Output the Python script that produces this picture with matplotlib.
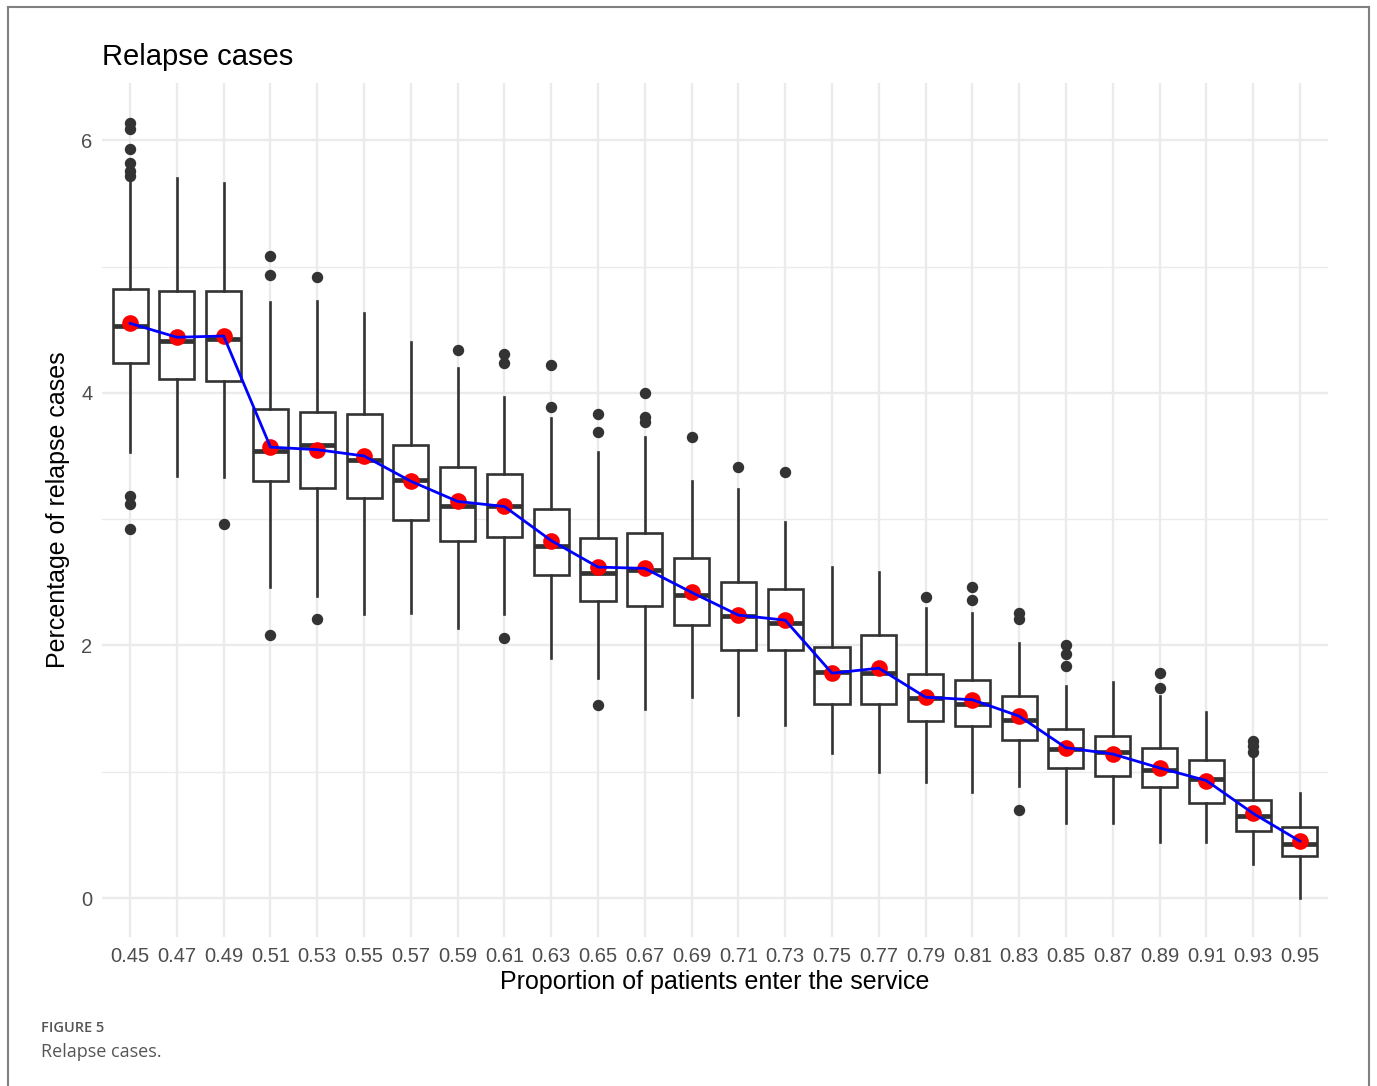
"""
Relapse cases boxplot (ggplot-like theme_minimal look) with mean markers.
"""
import matplotlib
matplotlib.use("Agg")
import matplotlib.pyplot as plt
from matplotlib.lines import Line2D

proportions = ["0.45", "0.47", "0.49", "0.51", "0.53", "0.55", "0.57", "0.59", "0.61",
               "0.63", "0.65", "0.67", "0.69", "0.71", "0.73", "0.75", "0.77", "0.79",
               "0.81", "0.83", "0.85", "0.87", "0.89", "0.91", "0.93", "0.95"]
whisker_low = [3.53, 3.34, 3.33, 2.46, 2.39, 2.25, 2.26, 2.14, 2.25, 1.90, 1.74, 1.50, 1.59,
               1.45, 1.37, 1.15, 1.00, 0.92, 0.84, 0.89, 0.59, 0.59, 0.44, 0.44, 0.27, 0.00]
q1 = [4.24, 4.11, 4.09, 3.30, 3.25, 3.17, 2.99, 2.83, 2.86, 2.56, 2.35, 2.31, 2.16,
      1.96, 1.96, 1.54, 1.54, 1.40, 1.36, 1.25, 1.03, 0.97, 0.88, 0.75, 0.53, 0.33]
median = [4.53, 4.41, 4.43, 3.54, 3.59, 3.47, 3.31, 3.10, 3.10, 2.79, 2.57, 2.60, 2.40,
          2.23, 2.18, 1.79, 1.78, 1.58, 1.54, 1.41, 1.18, 1.16, 1.01, 0.94, 0.65, 0.43]
q3 = [4.82, 4.81, 4.81, 3.87, 3.85, 3.83, 3.59, 3.41, 3.36, 3.08, 2.85, 2.89, 2.69,
      2.50, 2.45, 1.99, 2.08, 1.77, 1.73, 1.60, 1.34, 1.28, 1.19, 1.09, 0.78, 0.56]
whisker_high = [5.68, 5.70, 5.66, 4.72, 4.73, 4.63, 4.40, 4.20, 3.97, 3.80, 3.53, 3.65, 3.30,
                3.24, 2.98, 2.62, 2.58, 2.30, 2.26, 2.02, 1.68, 1.71, 1.60, 1.47, 1.12, 0.83]
means = [4.55, 4.44, 4.45, 3.57, 3.55, 3.50, 3.30, 3.14, 3.10, 2.83, 2.62, 2.61, 2.42,
         2.24, 2.20, 1.78, 1.82, 1.59, 1.57, 1.44, 1.19, 1.14, 1.03, 0.93, 0.67, 0.45]
outliers = [
    [6.14, 6.09, 5.93, 5.82, 5.76, 5.72, 3.18, 3.12, 2.92],
    [],
    [2.96],
    [5.08, 4.93, 2.08],
    [4.92, 2.21],
    [],
    [],
    [4.34],
    [4.31, 4.24, 2.06],
    [4.22, 3.89],
    [3.83, 3.69, 1.53],
    [4.00, 3.81, 3.77],
    [3.65],
    [3.41],
    [3.37],
    [],
    [],
    [2.38],
    [2.46, 2.36],
    [2.26, 2.21, 0.70],
    [2.00, 1.93, 1.84],
    [],
    [1.78, 1.66],
    [],
    [1.24, 1.20, 1.16],
    [],
]

_DARK = "#333333"
_GRID = "#EBEBEB"
_TICK = "#4D4D4D"

plt.rcParams["font.family"] = ["Liberation Sans", "DejaVu Sans"]

fig = plt.figure(figsize=(13.77, 10.86), dpi=100)
ax = fig.add_axes([0.0741, 0.1374, 0.8903, 0.7858])

stats = []
for i in range(len(proportions)):
    stats.append({
        "whislo": whisker_low[i], "q1": q1[i], "med": median[i],
        "q3": q3[i], "whishi": whisker_high[i], "fliers": outliers[i],
    })

pos = list(range(len(proportions)))
ax.bxp(stats, positions=pos, widths=0.75, showcaps=False, patch_artist=True,
       boxprops=dict(facecolor="white", edgecolor=_DARK, linewidth=1.9),
       whiskerprops=dict(color=_DARK, linewidth=1.9),
       medianprops=dict(color=_DARK, linewidth=3.4, solid_capstyle="butt"),
       flierprops=dict(marker="o", markerfacecolor=_DARK, markeredgecolor=_DARK,
                       markersize=7.2, linestyle="none"),
       zorder=3)

ax.plot(pos, means, "o", color="red", markersize=12, markeredgewidth=0, zorder=4)
ax.plot(pos, means, color="blue", linewidth=2.0, zorder=5)

ax.set_xlim(-0.6, len(proportions) - 1 + 0.6)
ax.set_ylim(-0.307, 6.45)
ax.set_xticks(pos)
ax.set_xticklabels(proportions)
ax.set_yticks([0, 2, 4, 6])
ax.set_yticks([1, 3, 5], minor=True)

ax.grid(True, which="major", color=_GRID, linewidth=1.7, zorder=0)
ax.grid(True, which="minor", axis="y", color=_GRID, linewidth=1.0, zorder=0)
ax.set_axisbelow(True)
for sp in ax.spines.values():
    sp.set_visible(False)
ax.tick_params(which="both", length=0, colors=_TICK, labelsize=14.5, pad=7)

ax.set_xlabel("Proportion of patients enter the service", fontsize=18, color="black", labelpad=3)
ax.set_ylabel("Percentage of relapse cases", fontsize=18, color="black", labelpad=8)
ax.set_title("Relapse cases", fontsize=21, loc="left", color="black", pad=13)

# outer frame of the figure panel
for xs, ys in [([0.0058, 0.0058], [0.0, 0.9936]),
               ([0.0058, 0.9942], [0.9936, 0.9936]),
               ([0.9942, 0.9942], [0.0, 0.9936])]:
    fig.add_artist(Line2D(xs, ys, color="#808080", linewidth=1.5))

fig.text(0.0298, 0.0535, "FIGURE 5", fontsize=10.5, color="#555555",
         family=["Open Sans", "DejaVu Sans"], fontweight="semibold", va="center")
fig.text(0.0298, 0.031, "Relapse cases.", fontsize=13, color="#555555",
         family=["Open Sans", "DejaVu Sans"], va="center")

fig.savefig("out.png", dpi=100)
